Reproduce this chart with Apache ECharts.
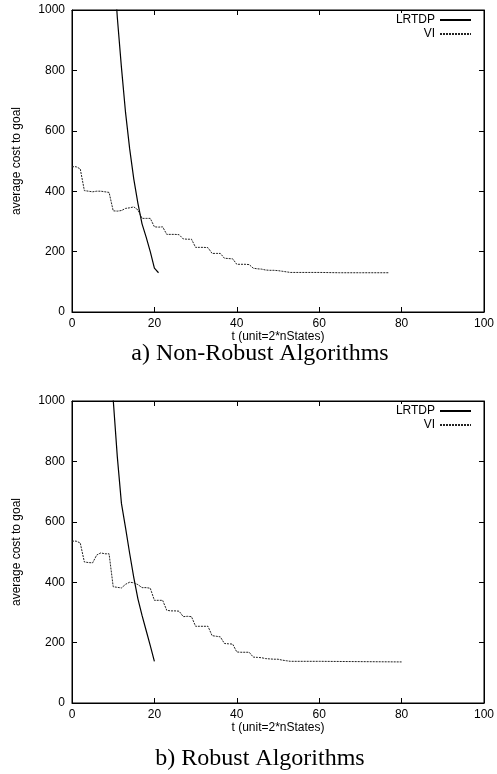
<!DOCTYPE html>
<html>
<head>
<meta charset="utf-8">
<script src="https://cdn.jsdelivr.net/npm/echarts@6/dist/echarts.min.js"></script>
<style>
html, body { margin: 0; padding: 0; background: #fff; }
#main { width: 497px; height: 774px; }
</style>
</head>
<body>
<div id="main"></div>
<script>
// panel titles
var panelTitles = ['a) Non-Robust Algorithms', 'b) Robust Algorithms'];
var xTicks = [0, 20, 40, 60, 80, 100];
var yTicks = [0, 200, 400, 600, 800, 1000];

// a) non-robust, [t, cost]
var lrtdpA = [[10, 1180], [11, 975], [12, 810], [13, 660], [14, 540], [15, 440], [16, 360],
    [17, 292], [18, 248], [19, 200], [20, 145], [21, 130]];
var viA = [[0, 481], [1, 481], [2, 474], [3, 402], [4, 400], [5, 398], [6, 400], [7, 400], [8, 398], [9, 396],
    [10, 335], [11, 334], [12, 336], [13, 343], [14, 345], [15, 348], [16, 338], [17, 310], [18, 310], [19, 310],
    [20, 282], [21, 281], [22, 282], [23, 257], [24, 257], [25, 257], [26, 256], [27, 242], [28, 241], [29, 241],
    [30, 214], [31, 214], [32, 214], [33, 213], [34, 194], [35, 194], [36, 194], [37, 178], [38, 177], [39, 176],
    [40, 158], [41, 158], [42, 158], [43, 157], [44, 145], [45, 143], [46, 142], [47, 139], [48, 138], [49, 138],
    [50, 137], [51, 135], [52, 133], [53, 131], [55, 131], [60, 131], [65, 130], [70, 130], [77, 130]];

// b) robust
var lrtdpB = [[10, 1005], [11, 815], [12, 661], [13, 580], [14, 495], [15, 415], [16, 345],
    [17, 290], [18, 240], [19, 190], [20, 138]];
var viB = [[0, 536], [1, 536], [2, 530], [3, 467], [4, 465], [5, 464], [6, 490], [7, 497], [8, 494], [9, 494],
    [10, 385], [11, 383], [12, 381], [13, 393], [14, 400], [15, 398], [16, 392], [17, 382], [18, 382], [19, 380],
    [20, 340], [21, 340], [22, 340], [23, 307], [24, 305], [25, 305], [26, 304], [27, 286], [28, 287], [29, 286],
    [30, 254], [31, 254], [32, 254], [33, 254], [34, 223], [35, 221], [36, 219], [37, 197], [38, 196], [39, 195],
    [40, 169], [41, 168], [42, 168], [43, 168], [44, 152], [45, 151], [46, 150], [47, 147], [48, 146], [49, 145],
    [50, 145], [51, 142], [52, 140], [53, 138], [54, 138], [60, 138], [70, 137], [80, 136]];

var font = 'Liberation Sans, Arial, sans-serif';
var gridTops = [10, 401];

function xAxisFor(i, top) {
    return {
        type: 'value', gridIndex: i, min: 0, max: 100, interval: 20,
        position: top ? 'top' : 'bottom',
        name: top ? '' : 't (unit=2*nStates)',
        nameLocation: 'middle', nameGap: 14,
        nameTextStyle: { color: '#000', fontFamily: font, fontSize: 12 },
        axisLine: { show: true, onZero: false, lineStyle: { color: '#000', width: 1 } },
        axisTick: { show: true, inside: true, length: 5, lineStyle: { color: '#000' } },
        axisLabel: { show: !top, color: '#000', fontFamily: font, fontSize: 12, margin: 6,
            formatter: function (v) { return String(v); } },
        splitLine: { show: false }
    };
}

function yAxisFor(i, right) {
    return {
        type: 'value', gridIndex: i, min: 0, max: 1000, interval: 200,
        position: right ? 'right' : 'left',
        name: right ? '' : 'average cost to goal',
        nameLocation: 'middle', nameGap: 49, nameRotate: 90,
        nameTextStyle: { color: '#000', fontFamily: font, fontSize: 12 },
        axisLine: { show: true, onZero: false, lineStyle: { color: '#000', width: 1 } },
        axisTick: { show: true, inside: true, length: 5, lineStyle: { color: '#000' } },
        axisLabel: { show: !right, color: '#000', fontFamily: font, fontSize: 12, margin: 7,
            formatter: function (v) { return String(v); } },
        splitLine: { show: false }
    };
}

function lineSeries(name, i, data, dashed) {
    return {
        name: name, type: 'line', xAxisIndex: i * 2, yAxisIndex: i * 2,
        data: data, symbol: 'none', showSymbol: false, clip: true, animation: false,
        itemStyle: { color: '#000' },
        lineStyle: dashed ? { color: '#222', width: 1, type: [2, 1] } : { color: '#000', width: 1.2 }
    };
}

var chart = echarts.init(document.getElementById('main'), null, { renderer: 'canvas' });
var option = {
    backgroundColor: '#fff',
    animation: false,
    title: [
        { text: panelTitles[0], left: 255, top: 337, textAlign: 'center',
          textStyle: { fontFamily: 'Liberation Serif, Times New Roman, serif', fontSize: 24, fontWeight: 'normal', color: '#000' } },
        { text: panelTitles[1], left: 255, top: 742, textAlign: 'center',
          textStyle: { fontFamily: 'Liberation Serif, Times New Roman, serif', fontSize: 24, fontWeight: 'normal', color: '#000' } }
    ],
    legend: [0, 1].map(function (i) {
        return {
            orient: 'vertical', align: 'right', right: 25, top: gridTops[i] + 3, padding: [1, 0, 0, 0],
            itemWidth: 31, itemHeight: 10, itemGap: 2, z: 20,
            backgroundColor: '#fff',
            itemStyle: { opacity: 0 },
            textStyle: { color: '#000', fontFamily: font, fontSize: 12 },
            data: ['LRTDP', 'VI']
        };
    }),
    grid: [0, 1].map(function (i) {
        return { left: 72, top: gridTops[i], width: 415, height: 302,
            show: true, borderColor: '#000', borderWidth: 1, backgroundColor: 'transparent' };
    }),
    xAxis: [xAxisFor(0, false), xAxisFor(0, true), xAxisFor(1, false), xAxisFor(1, true)],
    yAxis: [yAxisFor(0, false), yAxisFor(0, true), yAxisFor(1, false), yAxisFor(1, true)],
    series: [
        lineSeries('LRTDP', 0, lrtdpA, false),
        lineSeries('VI', 0, viA, true),
        lineSeries('LRTDP', 1, lrtdpB, false),
        lineSeries('VI', 1, viB, true)
    ]
};
chart.setOption(option);
</script>
</body>
</html>
